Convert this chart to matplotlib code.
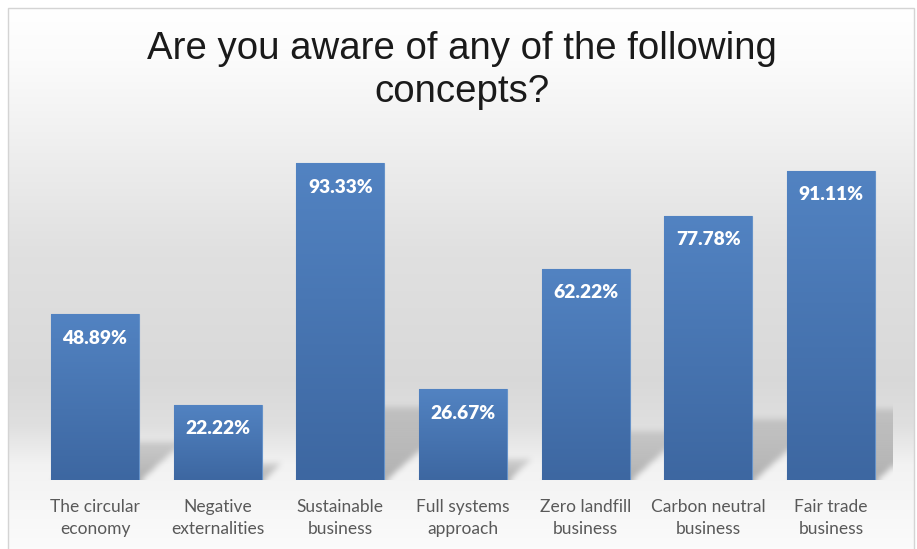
import numpy as np
import matplotlib
matplotlib.use("Agg")
import matplotlib.pyplot as plt
from matplotlib.colors import to_rgb
from matplotlib.path import Path
from matplotlib.patches import Rectangle

# ---- data ----
categories = ["The circular\neconomy", "Negative\nexternalities", "Sustainable\nbusiness",
              "Full systems\napproach", "Zero landfill\nbusiness", "Carbon neutral\nbusiness",
              "Fair trade\nbusiness"]
values = [48.89, 22.22, 93.33, 26.67, 62.22, 77.78, 91.11]
value_labels = [f"{v:.2f}%" for v in values]
title = "Are you aware of any of the following\nconcepts?"

W, H = 917, 549
fig = plt.figure(figsize=(W / 100, H / 100), dpi=100)
fig.patch.set_facecolor("white")

# ---- chart area background (vertical grey gradient) ----
top_px, right_px, left_px = 8, 914, 8
bg = fig.add_axes([left_px / W, 0, (right_px - left_px) / W, (H - top_px) / H], zorder=-5)
rows = np.arange(top_px, H) + 0.5
stop_y = [8, 60, 150, 250, 380, 425, 465, 549]
stop_v = [1.00, 0.985, 0.935, 0.88, 0.85, 0.875, 0.95, 0.985]
col = np.interp(rows, stop_y, stop_v)
bg_img = np.repeat(col[:, None], 4, axis=1)
bg_img = np.dstack([bg_img, bg_img, bg_img])
bg.imshow(bg_img, aspect="auto", extent=[0, 1, 0, 1], origin="upper", interpolation="bilinear")
bg.set_axis_off()

fig.patches.append(Rectangle((left_px / W, -0.02), (right_px - left_px) / W, (H - top_px) / H + 0.02,
                             transform=fig.transFigure, fill=False, ec="#d4d4d4", lw=1.0, zorder=10))

# ---- plot axes ----
ax = fig.add_axes([33.7 / W, 69 / H, (892.3 - 33.7) / W, (480 - 140.5) / H])
ax.patch.set_alpha(0)
bar_w = 0.715
xs = np.arange(len(values))
ax.set_xlim(-0.5, len(values) - 0.5)
ax.set_ylim(0, 100)
for s in ax.spines.values():
    s.set_visible(False)
ax.set_yticks([])

# ---- soft perspective shadows cast behind the bars ----
bb = ax.bbox
nx, ny = int(round(bb.width)), int(round(bb.height))
gx = bb.x0 + np.arange(nx) + 0.5
gy = bb.y0 + np.arange(ny) + 0.5
GX, GY = np.meshgrid(gx, gy)
pts = np.column_stack([GX.ravel(), GY.ravel()])
alpha = np.zeros(ny * nx)
for x, v in zip(xs, values):
    (x0, yb), (x1, yt) = ax.transData.transform([(x - bar_w / 2, 0), (x + bar_w / 2, v)])
    sh = 0.23 * (yt - yb)
    sk = 1.15 * sh
    poly = Path([(x0, yb - 2), (x1, yb - 2), (x1 + sk, yb + sh), (x0 + sk, yb + sh), (x0, yb - 2)])
    m = poly.contains_points(pts)
    frac = np.clip((pts[:, 1] - yb) / max(sh, 1), 0, 1)
    a = np.where(m, 0.58 - 0.3 * frac, 0)
    alpha = np.maximum(alpha, a)
alpha = alpha.reshape(ny, nx)


def box_blur(arr, k):
    pad = k // 2
    p = np.pad(arr, pad, mode="edge")
    c = np.cumsum(np.cumsum(p, axis=0), axis=1)
    c = np.pad(c, ((1, 0), (1, 0)))
    return (c[k:, k:] - c[:-k, k:] - c[k:, :-k] + c[:-k, :-k]) / (k * k)


alpha = box_blur(box_blur(alpha, 7), 7)
shadow_rgb = to_rgb("#7d7d7d")
shadow = np.zeros((ny, nx, 4))
shadow[..., :3] = shadow_rgb
shadow[..., 3] = alpha
ax.imshow(shadow, extent=[0, 1, 0, 1], transform=ax.transAxes, origin="lower",
          aspect="auto", zorder=1, interpolation="bilinear")

# ---- gradient-filled bars ----
top_c = np.array(to_rgb("#5283c2"))
bot_c = np.array(to_rgb("#3d67a1"))
bars = ax.bar(xs, values, width=bar_w, color="#4a78b6", edgecolor="#6592c9", linewidth=0.8, zorder=2)
grad = np.linspace(0, 1, 256)[:, None]
grad_img = top_c[None, None, :] * (1 - grad[..., None]) + bot_c[None, None, :] * grad[..., None]
for rect, x, v in zip(bars, xs, values):
    im = ax.imshow(grad_img, extent=[x - bar_w / 2, x + bar_w / 2, 0, v], origin="upper",
                   aspect="auto", zorder=2.5, interpolation="bilinear")
    im.set_clip_path(rect)
ax.set_xlim(-0.5, len(values) - 0.5)
ax.set_ylim(0, 100)

# ---- value labels inside bars ----
for x, v, lab in zip(xs, values, value_labels):
    ax.annotate(lab, (x, v), xytext=(0, -24), textcoords="offset pixels", ha="center", va="center",
                color="white", fontsize=13.8, fontweight="heavy", family="Lato", zorder=5)

# ---- category labels ----
ax.set_xticks(xs)
ax.set_xticklabels(categories, fontsize=12.5, color="#595959", family="Lato", linespacing=1.45)
ax.tick_params(axis="x", length=0, pad=14)

# ---- title ----
fig.text(462 / W, 1 - 31 / H, title, ha="center", va="top", fontsize=27.6,
         family="Liberation Sans", color="#1a1a1a", linespacing=1.25)

fig.savefig("out.png", dpi=100)
